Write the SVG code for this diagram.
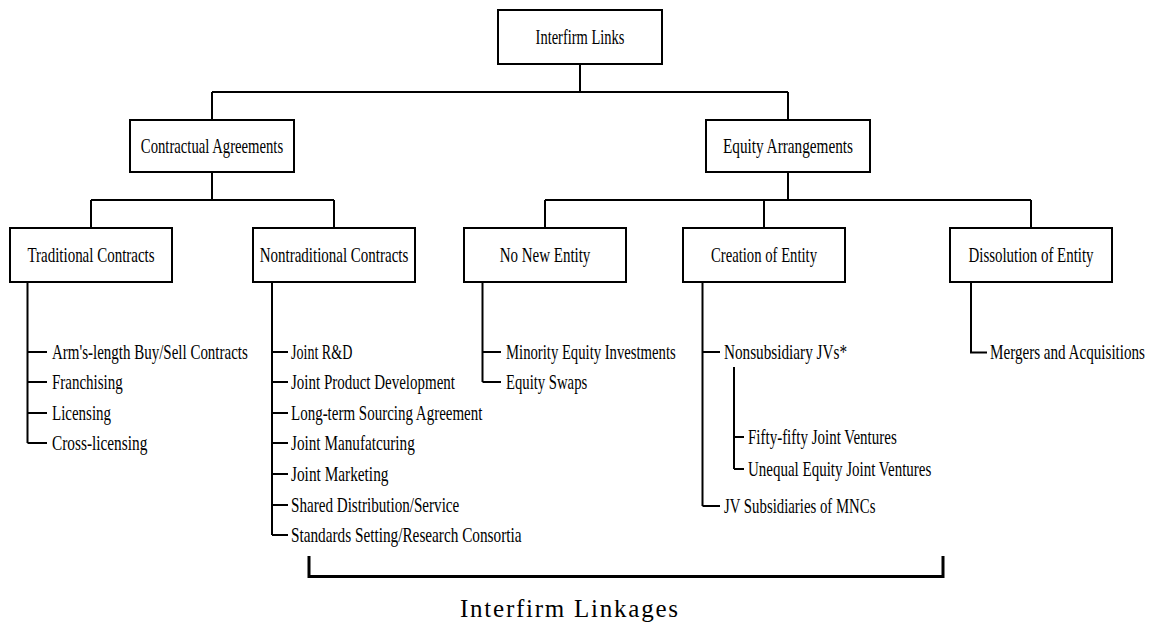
<svg xmlns="http://www.w3.org/2000/svg" width="1153" height="624" viewBox="0 0 1153 624">
<style>
.box{fill:#fff;stroke:#000;stroke-width:2}
.ln{fill:none;stroke:#000;stroke-width:2}
.br{fill:none;stroke:#000;stroke-width:3}
text{font-family:"Liberation Serif","Times New Roman",serif;font-size:21px;fill:#000}
.c{text-anchor:middle}
.cap{font-size:25px}
</style>
<rect width="1153" height="624" fill="#fff"/>
<g id="connectors">
<path class="ln" d="M580,64V92M212,92H788M212,92V120M788,92V120"/>
<path class="ln" d="M212,172V200M91,200H334M91,200V228M334,200V228"/>
<path class="ln" d="M788,172V200M545,200H1031M545,200V228M764,200V228M1031,200V228"/>
<path class="ln" d="M27.5,282V443M27.5,352H47M27.5,382H47M27.5,413H47M27.5,443H47"/>
<path class="ln" d="M272,282V535M272,352H288M272,382H288M272,413H288M272,443H288M272,474H288M272,505H288M272,535H288"/>
<path class="ln" d="M482.5,282V382M482.5,352H501M482.5,382H501"/>
<path class="ln" d="M702.5,282V506M702.5,352H720M702.5,506H720"/>
<path class="ln" d="M734,367V469M734,437H744M734,469H744"/>
<path class="ln" d="M971,282V352.5H987"/>
<path class="br" d="M309,556V576.5H943V556"/>
</g>
<g id="n-interfirm"><rect class="box" x="498" y="10" width="164" height="54"/><text class="c" transform="translate(580 44) scale(0.69 1)">Interfirm Links</text></g>
<g id="n-contractual"><rect class="box" x="130" y="120" width="164" height="52"/><text class="c" transform="translate(212 153) scale(0.70 1)">Contractual Agreements</text></g>
<g id="n-equity"><rect class="box" x="706" y="120" width="164" height="52"/><text class="c" transform="translate(788 153) scale(0.727 1)">Equity Arrangements</text></g>
<g id="n-traditional"><rect class="box" x="10" y="228" width="162" height="54"/><text class="c" transform="translate(91 262) scale(0.714 1)">Traditional Contracts</text></g>
<g id="n-nontraditional"><rect class="box" x="253" y="228" width="162" height="54"/><text class="c" transform="translate(334 262) scale(0.714 1)">Nontraditional Contracts</text></g>
<g id="n-nonew"><rect class="box" x="464" y="228" width="162" height="54"/><text class="c" transform="translate(545 262) scale(0.714 1)">No New Entity</text></g>
<g id="n-creation"><rect class="box" x="683" y="228" width="162" height="54"/><text class="c" transform="translate(764 262) scale(0.70 1)">Creation of Entity</text></g>
<g id="n-dissolution"><rect class="box" x="950" y="228" width="162" height="54"/><text class="c" transform="translate(1031 262) scale(0.71 1)">Dissolution of Entity</text></g>
<g id="l-traditional">
<text transform="translate(52 359) scale(0.714 1)">Arm's-length Buy/Sell Contracts</text>
<text transform="translate(52 389) scale(0.714 1)">Franchising</text>
<text transform="translate(52 420) scale(0.714 1)">Licensing</text>
<text transform="translate(52 450) scale(0.73 1)">Cross-licensing</text>
</g>
<g id="l-nontraditional">
<text transform="translate(291 359) scale(0.67 1)">Joint R&amp;D</text>
<text transform="translate(291 389) scale(0.714 1)">Joint Product Development</text>
<text transform="translate(291 420) scale(0.714 1)">Long-term Sourcing Agreement</text>
<text transform="translate(291 450) scale(0.725 1)">Joint Manufatcuring</text>
<text transform="translate(291 481) scale(0.73 1)">Joint Marketing</text>
<text transform="translate(291 512) scale(0.72 1)">Shared Distribution/Service</text>
<text transform="translate(291 542) scale(0.727 1)">Standards Setting/Research Consortia</text>
</g>
<g id="l-nonew">
<text transform="translate(506 359) scale(0.70 1)">Minority Equity Investments</text>
<text transform="translate(506 389) scale(0.70 1)">Equity Swaps</text>
</g>
<g id="l-creation">
<text transform="translate(724 359) scale(0.725 1)">Nonsubsidiary JVs*</text>
<text transform="translate(748 444) scale(0.714 1)">Fifty-fifty Joint Ventures</text>
<text transform="translate(748 476) scale(0.714 1)">Unequal Equity Joint Ventures</text>
<text transform="translate(724 513) scale(0.705 1)">JV Subsidiaries of MNCs</text>
</g>
<g id="l-dissolution">
<text transform="translate(990 359) scale(0.72 1)">Mergers and Acquisitions</text>
</g>
<g id="caption">
<text class="c cap" x="569" y="617" textLength="218" lengthAdjust="spacing">Interfirm Linkages</text>
</g>
</svg>
